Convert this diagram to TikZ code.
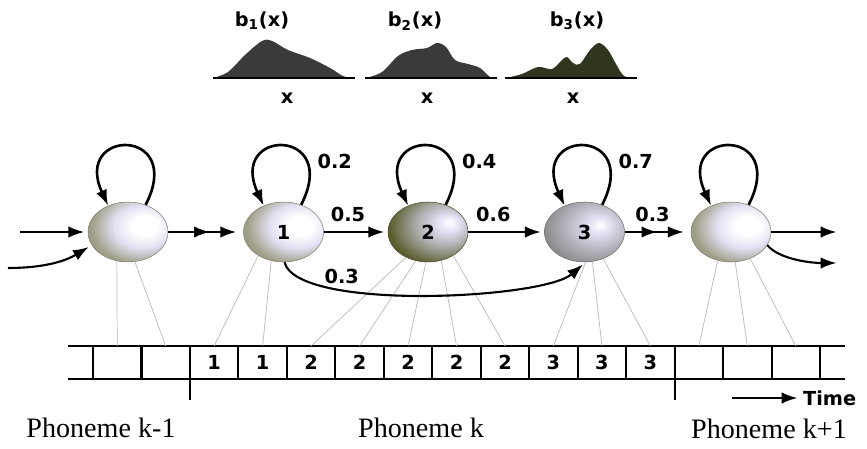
\documentclass[tikz,border=0pt]{standalone}
\usepackage{xcolor}
\usepackage{fontspec}
\setmainfont{Liberation Serif}
\newfontfamily\labfont{DejaVu Sans}
\usepackage{tikz}
\usetikzlibrary{shapes.geometric,arrows.meta,positioning}

\definecolor{stgray}{HTML}{A09F88}
\definecolor{stdark}{HTML}{5C5E30}
\definecolor{stmid}{HTML}{888888}
\definecolor{lav}{HTML}{E2E0F2}
\definecolor{densgray}{HTML}{3A3A3A}
\definecolor{densolive}{HTML}{30361E}

\pgfdeclareradialshading{stlite}{\pgfpoint{12bp}{6bp}}{%
  color(0bp)=(white); color(8bp)=(white); color(18bp)=(lav);
  color(30bp)=(stgray); color(50bp)=(stgray!85!black); color(75bp)=(stgray!60!black)}
\pgfdeclareradialshading{stmidsh}{\pgfpoint{10bp}{6bp}}{%
  color(0bp)=(white); color(7bp)=(lav); color(18bp)=(lav!55!stmid);
  color(32bp)=(stmid); color(50bp)=(stmid!85!black); color(75bp)=(stmid!60!black)}
\pgfdeclareradialshading{stdarksh}{\pgfpoint{14bp}{8bp}}{%
  color(0bp)=(white); color(7bp)=(lav); color(18bp)=(gray!65);
  color(32bp)=(stdark); color(50bp)=(stdark!85!black); color(75bp)=(stdark!60!black)}

\begin{document}
\begin{tikzpicture}[
  x=0.02cm, y=-0.02cm,
  state/.style  = {ellipse, minimum width=1.6cm, minimum height=1.2cm,
                   inner sep=0pt, shade, line width=0.3pt,
                   font=\labfont\bfseries\fontsize{11}{13}\selectfont},
  lite/.style   = {state, shading=stlite, draw=stgray!80!black},
  mid/.style    = {state, shading=stmidsh, draw=stmid!80!black},
  dark/.style   = {state, shading=stdarksh, draw=stdark!80!black},
  lbl/.style    = {font=\labfont\bfseries\fontsize{11}{13}\selectfont, inner sep=1pt},
  cell/.style   = {minimum width=0.9694cm, minimum height=0.66cm, inner sep=0pt,
                   outer sep=0pt, font=\labfont\bfseries\fontsize{11}{13}\selectfont},
  phon/.style   = {font=\fontsize{16}{19}\selectfont, inner sep=0pt},
  tape/.style   = {line width=1.2pt},
  link/.style   = {draw=gray!55, line width=0.4pt},
  arr/.style    = {-{Latex[length=9pt,width=6.5pt]}, line width=1.2pt, shorten >=2pt},
  arrtwo/.style = {-{Latex[length=9pt,width=6.5pt,sep=6pt]Latex[length=9pt,width=6.5pt]},
                   line width=1.2pt, shorten >=4pt},
  selfloop/.style = {-{Latex[length=9pt,width=6.5pt]}, line width=1.5pt},
  dens/.style   = {fill=densgray},
  base/.style   = {line width=1pt},
]
\useasboundingbox (0,0) rectangle (867,449);

%% ─── output densities ─────────────────────────────────────────────────────
\fill[dens] plot[smooth, tension=0.55] coordinates {(213,78) (228,72) (245,55)
  (262,41) (272,41) (288,50) (310,58) (330,68) (343,76) (353,78)} -- cycle;
\fill[dens] plot[smooth, tension=0.55] coordinates {(366,78) (382,72) (398,56)
  (412,50) (427,48) (437,43) (446,47) (455,60) (468,64) (480,68) (490,77) (496,78)} -- cycle;
\fill[dens, fill=densolive] plot[smooth, tension=0.55] coordinates {(506,78) (522,74)
  (538,67) (552,69) (562,60) (567,57) (573,63) (580,64) (590,50) (599,43) (608,50)
  (616,64) (624,76) (635,78)} -- cycle;
\draw[base] (213,78) -- (355,78) (365,78) -- (497,78) (505,78) -- (637,78);

\node[lbl] (b1) at (262,21) {b\textsubscript{1}(x)};
\node[lbl] (b2) at (415,21) {b\textsubscript{2}(x)};
\node[lbl] (b3) at (577,21) {b\textsubscript{3}(x)};
\node[lbl] (x1) at (287,98) {x};
\node[lbl] (x2) at (427,98) {x};
\node[lbl] (x3) at (573,98) {x};

%% ─── observation tape ─────────────────────────────────────────────────────
\foreach \i/\v in {1/,2/,3/1,4/1,5/2,6/2,7/2,8/2,9/2,10/3,11/3,12/3,13/,14/,15/}
  \node[cell] (c\i) at ({93+(\i-0.5)*48.47},362.5) {\v};
\draw[tape] (68,346) -- (845,346) (68,379) -- (845,379);
\foreach \k in {0,...,15}
  \draw[tape] ({93+\k*48.47},346) -- ({93+\k*48.47},379);
\foreach \k in {2,12}
  \draw[tape] ({93+\k*48.47},379) -- ({93+\k*48.47},400);

\node[phon] (ph0) at (101,428) {Phoneme k-1};
\node[phon] (ph1) at (421,428) {Phoneme k};
\node[phon] (ph2) at (769,429) {Phoneme k+1};

\coordinate (t0) at (732,398);
\node[lbl, anchor=west] (time) at (801,398) {Time};
\draw[arr] (t0) -- (time);

%% ─── states ───────────────────────────────────────────────────────────────
\node[lite] (s0) at (128,232) {};
\node[lite, right=1.5cm of s0]  (s1) {1};
\node[dark, right=1.28cm of s1] (s2) {2};
\node[mid,  right=1.52cm of s2] (s3) {3};
\node[lite, right=1.32cm of s3] (s4) {};

% frames emitted by each state
\foreach \s/\a/\c in {s0/-111/1, s0/-77/2, s1/-137/3, s1/-113/4,
    s2/-131/5, s2/-113/6, s2/-94/7, s2/-65/8, s2/-43/9,
    s3/-88/10, s3/-75/11, s3/-55/12, s4/-115/13, s4/-82/14, s4/-54/15}
  \draw[link] (\s.\a) -- (c\c.north);

%% ─── transitions ──────────────────────────────────────────────────────────
\foreach \s in {s0,s4}
  \draw[selfloop] (\s.57) .. controls +(40,-78) and +(-36,-78) .. (\s.127);
\foreach \s/\p in {s1/0.2, s2/0.4, s3/0.7}
  \draw[selfloop] (\s.57) .. controls +(40,-78) and +(-36,-78)
    .. node[lbl, pos=0.25, right=0.15cm] {\p} (\s.127);

\draw[arrtwo] (s0) -- (s1);
\draw[arr] (s1) -- node[lbl, above=4pt, pos=0.38] {0.5} (s2);
\draw[arr] (s2) -- node[lbl, above=4pt, pos=0.33] {0.6} (s3);
\draw[arrtwo] (s3) -- node[lbl, above=4pt, pos=0.42] {0.3} (s4);
\draw[arr] (s1.-88) .. controls +(12,49) and +(-43,37)
  .. node[lbl, pos=0.22, above right=0pt] {0.3} (s3.-88);

% entry and exit
\coordinate (in1) at (20,232);
\coordinate (in2) at (8,268);
\coordinate (out1) at (840,232);
\coordinate (out2) at (840,263);
\draw[arr] (in1) -- (s0);
\draw[arr] (in2) .. controls +(45,0) and +(-20,12) .. (s0.200);
\draw[arr] (s4) -- (out1);
\draw[arr] (s4.-20) .. controls +(12,14) and +(-30,0) .. (out2);

\end{tikzpicture}
\end{document}
